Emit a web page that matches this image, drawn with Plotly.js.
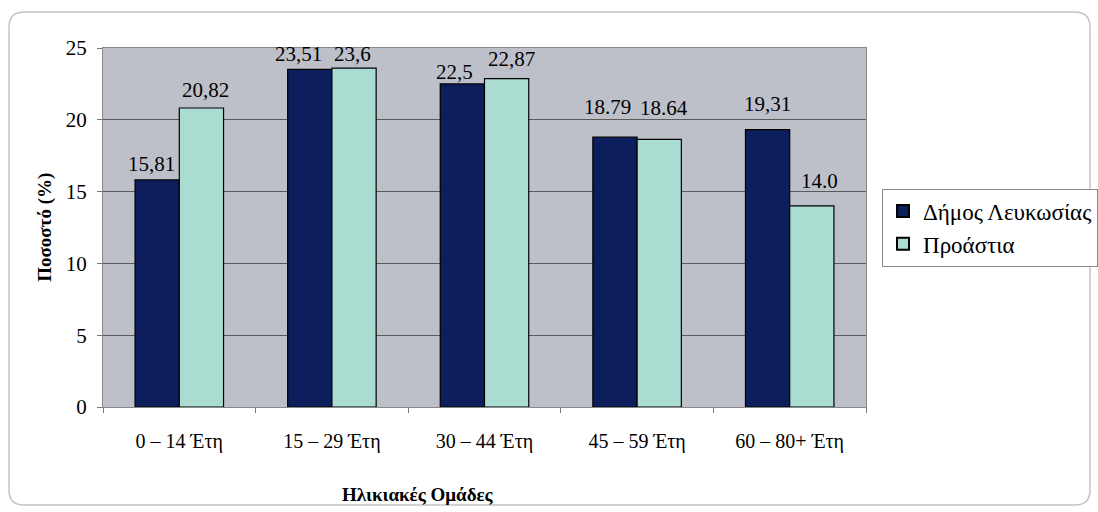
<!DOCTYPE html>
<html><head><meta charset="utf-8">
<script src="https://cdn.plot.ly/plotly-3.0.1.min.js"></script>
<style>html,body{margin:0;padding:0;background:#fff;}#chart{width:1098px;height:512px;}</style>
</head><body><div id="chart"></div>
<script>
const categories = ["0 – 14 Έτη", "15 – 29 Έτη", "30 – 44 Έτη", "45 – 59 Έτη", "60 – 80+ Έτη"];
const seriesNames = ["Δήμος Λευκωσίας", "Προάστια"];
const dimosValues = [15.81, 23.51, 22.5, 18.79, 19.31];
const proastiaValues = [20.82, 23.6, 22.87, 18.64, 14.0];
const dimosLabels = ["15,81", "23,51", "22,5", "18.79", "19,31"];
const proastiaLabels = ["20,82", "23,6", "22,87", "18.64", "14.0"];
const yTicks = [0, 5, 10, 15, 20, 25];

// label placement nudges (pixels), layout only
const nudgeDark = {dx: [-6, -11, -8, -8, 0], dy: [2, 1, -2, 16, 12]};
const nudgeLight = {dx: [4, -1, 5, 5, 8], dy: [4, 0, 6, 17, 11]};

const serif = "Liberation Serif";
const barHalf = 22;

const traces = [
  {type: "bar", name: seriesNames[0], x: categories, y: dimosValues,
   marker: {color: "#0c1f5c", line: {color: "#000", width: 1.2}}, hoverinfo: "none"},
  {type: "bar", name: seriesNames[1], x: categories, y: proastiaValues,
   marker: {color: "#aadcd2", line: {color: "#000", width: 1.2}}, hoverinfo: "none"}
];

const annotations = [];
function addLabels(vals, labels, nudge, side) {
  vals.forEach((v, i) => {
    annotations.push({
      x: categories[i], y: v, xref: "x", yref: "y", text: labels[i], showarrow: false,
      xanchor: "center", yanchor: "bottom",
      xshift: side * barHalf + nudge.dx[i], yshift: nudge.dy[i],
      font: {family: serif, size: 21, color: "#000"}
    });
  });
}
addLabels(dimosValues, dimosLabels, nudgeDark, -1);
addLabels(proastiaValues, proastiaLabels, nudgeLight, 1);

annotations.push({
  text: "<b>Ηλικιακές Ομάδες</b>", xref: "paper", yref: "paper", x: 0.413, y: -0.245,
  xanchor: "center", yanchor: "middle", showarrow: false,
  font: {family: serif, size: 19, color: "#000"}
});
annotations.push({
  text: "<b>Ποσοστό (%)</b>", xref: "paper", yref: "paper", x: -0.077, y: 0.5,
  xanchor: "center", yanchor: "middle", showarrow: false, textangle: -90,
  font: {family: serif, size: 19, color: "#000"}
});

// rounded outer frame (paper coords)
const x0 = -0.1232, x1 = 1.2936, y0 = -0.273, y1 = 1.1003, rx = 0.02, ry = 0.042;
const framePath = `M ${x0+rx} ${y1} L ${x1-rx} ${y1} Q ${x1} ${y1} ${x1} ${y1-ry} L ${x1} ${y0+ry} Q ${x1} ${y0} ${x1-rx} ${y0} L ${x0+rx} ${y0} Q ${x0} ${y0} ${x0} ${y0+ry} L ${x0} ${y1-ry} Q ${x0} ${y1} ${x0+rx} ${y1} Z`;

const layout = {
  width: 1098, height: 512,
  font: {family: serif, color: "#000"},
  margin: {l: 103, r: 232, t: 48, b: 105, autoexpand: false},
  paper_bgcolor: "#ffffff",
  plot_bgcolor: "#bec0c9",
  barmode: "group", bargap: 0.42, bargroupgap: 0,
  showlegend: true,
  legend: {
    x: 1.021, xanchor: "left", y: 0.5, yanchor: "middle",
    bgcolor: "#ffffff", bordercolor: "#8a8a8a", borderwidth: 1,
    font: {family: serif, size: 23, color: "#000"},
    itemsizing: "constant", tracegroupgap: 0, itemwidth: 30
  },
  xaxis: {
    type: "category", showgrid: false,
    ticks: "outside", tickson: "boundaries", ticklen: 5, tickcolor: "#777",
    ticklabelstandoff: 16,
    tickfont: {family: serif, size: 20, color: "#000"},
    showline: true, linecolor: "#888", linewidth: 1, mirror: true,
    zeroline: false
  },
  yaxis: {
    range: [0, 25], tickvals: yTicks, ticktext: yTicks.map(String),
    ticks: "outside", ticklen: 5, tickcolor: "#777",
    ticklabelstandoff: 6,
    tickfont: {family: serif, size: 21, color: "#000"},
    showgrid: true, gridcolor: "#5a5a5a", gridwidth: 1,
    showline: true, linecolor: "#888", linewidth: 1, mirror: true,
    zeroline: false
  },
  annotations: annotations,
  shapes: [{type: "path", xref: "paper", yref: "paper", path: framePath,
            line: {color: "#c4c4c4", width: 1.5}, layer: "below"}]
};

Plotly.newPlot("chart", traces, layout, {displayModeBar: false, staticPlot: true});
</script></body></html>
